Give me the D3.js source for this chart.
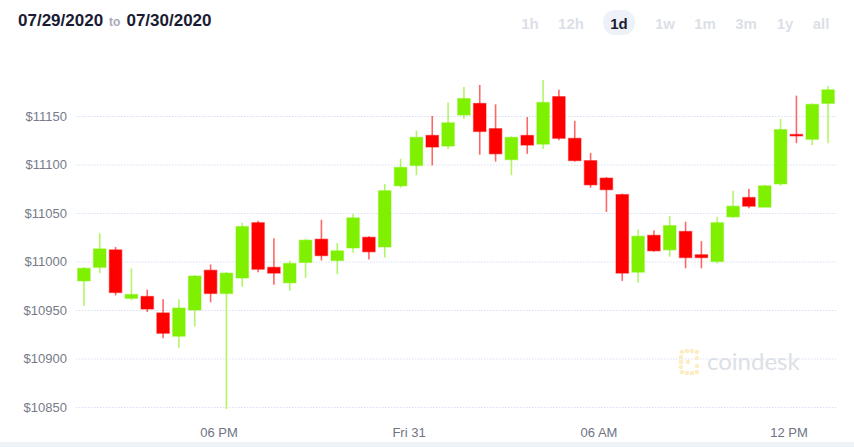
<!DOCTYPE html>
<html>
<head>
<meta charset="utf-8">
<script src="https://cdn.jsdelivr.net/npm/d3@7"></script>
<style>
  body { margin: 0; background: #fff; }
  svg { display: block; font-family: "Liberation Sans", Arial, sans-serif; }
</style>
</head>
<body>
<svg width="854" height="447"></svg>
<script>
// half-hour candles, Thu 30 Jul 13:30 -> Fri 31 Jul 13:00 (open time)
var times = ["07-30 13:30","07-30 14:00","07-30 14:30","07-30 15:00","07-30 15:30","07-30 16:00",
  "07-30 16:30","07-30 17:00","07-30 17:30","07-30 18:00","07-30 18:30","07-30 19:00",
  "07-30 19:30","07-30 20:00","07-30 20:30","07-30 21:00","07-30 21:30","07-30 22:00",
  "07-30 22:30","07-30 23:00","07-30 23:30","07-31 00:00","07-31 00:30","07-31 01:00",
  "07-31 01:30","07-31 02:00","07-31 02:30","07-31 03:00","07-31 03:30","07-31 04:00",
  "07-31 04:30","07-31 05:00","07-31 05:30","07-31 06:00","07-31 06:30","07-31 07:00",
  "07-31 07:30","07-31 08:00","07-31 08:30","07-31 09:00","07-31 09:30","07-31 10:00",
  "07-31 10:30","07-31 11:00","07-31 11:30","07-31 12:00","07-31 12:30","07-31 13:00"];
var open  = [10980,10994,11012,10962,10964,10947,10923,10950,10991,10967,10983,11040,
  10994,10978,10999,11023,11001,11014,11025,11015,11078,11099,11130,11119,
  11151,11163,11137,11105,11130,11121,11170,11127,11104,11086,11069,10989,
  11027,11012,11031,11007,11000,11046,11066,11056,11080,11131,11126,11163];
var high  = [10994,11029,11015,10993,10971,10961,10961,10986,10997,10989,11040,11042,
  11024,11001,11023,11043,11019,11049,11026,11080,11106,11135,11150,11164,
  11180,11182,11162,11129,11149,11187,11177,11145,11112,11087,11070,11033,
  11032,11047,11041,11021,11046,11073,11075,11079,11147,11171,11163,11181];
var low   = [10954,10988,10965,10960,10948,10921,10911,10933,10958,10848,10974,10989,
  10976,10970,10983,11001,10987,11009,11002,11004,11076,11089,11099,11116,
  11147,11110,11103,11089,11111,11116,11125,11103,11076,11051,10980,10978,
  11010,11005,10993,10993,10998,11045,11055,11056,11078,11122,11120,11122];
var close = [10993,11013,10968,10966,10951,10926,10952,10985,10967,10988,11036,10992,
  10988,10998,11022,11006,11011,11045,11010,11073,11097,11128,11118,11143,
  11168,11134,11111,11128,11120,11164,11127,11104,11079,11074,10988,11026,
  11011,11037,11004,11004,11040,11057,11057,11078,11136,11130,11162,11177];
var yTicks = [10850, 10900, 10950, 11000, 11050, 11100, 11150];
var ranges = ["1h", "12h", "1d", "1w", "1m", "3m", "1y", "all"];

var parse = d3.timeParse("%m-%d %H:%M");
var data = times.map(function(t, i) {
  var d = parse(t); d.setFullYear(2020);
  return {date: d, open: open[i], high: high[i], low: low[i], close: close[i]};
});

var svg = d3.select("svg");
var up = "#7ff000", down = "#ff0000";

var x = d3.scaleTime()
    .domain([new Date(2020, 6, 30, 13, 30), new Date(2020, 6, 31, 13, 30)])
    .range([76, 836]);
var y = d3.scaleLinear()
    .domain([10850, 11150])
    .range([407, 116]);

/* header */
var head = svg.append("text").attr("x", 18).attr("y", 26)
    .attr("font-size", 17).attr("font-weight", "bold").attr("fill", "#1b1c33");
head.append("tspan").text("07/29/2020");
head.append("tspan").attr("font-size", 12).attr("fill", "#a7aab6").attr("font-weight", "bold")
    .attr("dx", 6).text("to");
head.append("tspan").attr("dx", 6).text("07/30/2020");

var rangeX = [530, 571, 619, 665, 705, 746, 785, 821];
svg.append("rect").attr("x", 603).attr("y", 10).attr("width", 32).attr("height", 25)
    .attr("rx", 12).attr("fill", "#eef2f8");
svg.append("g").selectAll("text")
  .data(ranges)
  .enter().append("text")
    .attr("x", function(d, i) { return rangeX[i]; })
    .attr("y", 29)
    .attr("text-anchor", "middle")
    .attr("font-size", 15)
    .attr("font-weight", "bold")
    .attr("fill", function(d) { return d == "1d" ? "#1b1c33" : "#dcdfe8"; })
    .text(function(d) { return d; });

/* grid + y labels */
var yAxis = svg.append("g")
    .attr("transform", "translate(76,0)")
    .call(d3.axisLeft(y).tickValues(yTicks).tickSize(0).tickPadding(9)
      .tickFormat(function(d) { return "$" + d; }));
yAxis.select(".domain").remove();
yAxis.selectAll("text").attr("font-size", 13).attr("fill", "#767b89")
    .attr("font-family", "'Liberation Sans', Arial, sans-serif");

svg.append("g").selectAll("line")
  .data(yTicks)
  .enter().append("line")
    .attr("x1", 76).attr("x2", 836)
    .attr("y1", function(d) { return y(d) + 0.5; })
    .attr("y2", function(d) { return y(d) + 0.5; })
    .attr("stroke", "#d9e0f5")
    .attr("stroke-dasharray", "1.5,1.5");

/* x labels */
var xAxis = svg.append("g")
    .attr("transform", "translate(0,420)")
    .call(d3.axisBottom(x).ticks(d3.timeHour.every(6)).tickSize(0).tickPadding(8));
xAxis.select(".domain").remove();
xAxis.selectAll("text").attr("font-size", 13).attr("fill", "#6e7484")
    .attr("font-family", "'Liberation Sans', Arial, sans-serif");

/* watermark */
var wm = svg.append("g").attr("fill", "#fdedc4");
[[682,352],[687,351],[692,351],[697,352],[681,357],[681,362],[681,367],[682,372],[687,373],[692,373],[697,372],[688,362],[697,358],[697,366]]
  .forEach(function(p) { wm.append("circle").attr("cx", p[0]).attr("cy", p[1]).attr("r", 2.3); });
svg.append("text").attr("x", 707).attr("y", 370)
    .attr("font-family", "Lato, sans-serif").attr("font-size", 24)
    .attr("fill", "#dcdfe6").text("coindesk");

/* candles */
var bw = 12.5;
var candle = svg.append("g").selectAll("g")
  .data(data)
  .enter().append("g")
    .attr("transform", function(d) { return "translate(" + x(d3.timeMinute.offset(d.date, 15)) + ",0)"; });

candle.append("line")
    .attr("y1", function(d) { return y(d.high); })
    .attr("y2", function(d) { return y(d.low); })
    .attr("stroke", function(d) { return d.close >= d.open ? up : down; })
    .attr("stroke-opacity", 0.6)
    .attr("stroke-width", 1.6);

candle.append("rect")
    .attr("x", -bw / 2)
    .attr("width", bw)
    .attr("y", function(d) { return y(Math.max(d.open, d.close)); })
    .attr("height", function(d) { return Math.max(1.5, Math.abs(y(d.open) - y(d.close))); })
    .attr("fill", function(d) { return d.close >= d.open ? up : down; })
    .attr("stroke", function(d) { return d.close >= d.open ? up : down; })
    .attr("stroke-opacity", 0.45)
    .attr("stroke-width", 1.2);

/* bottom strip */
svg.append("rect").attr("x", 0).attr("y", 442).attr("width", 854).attr("height", 5).attr("fill", "#eef3f8");
</script>
</body>
</html>
